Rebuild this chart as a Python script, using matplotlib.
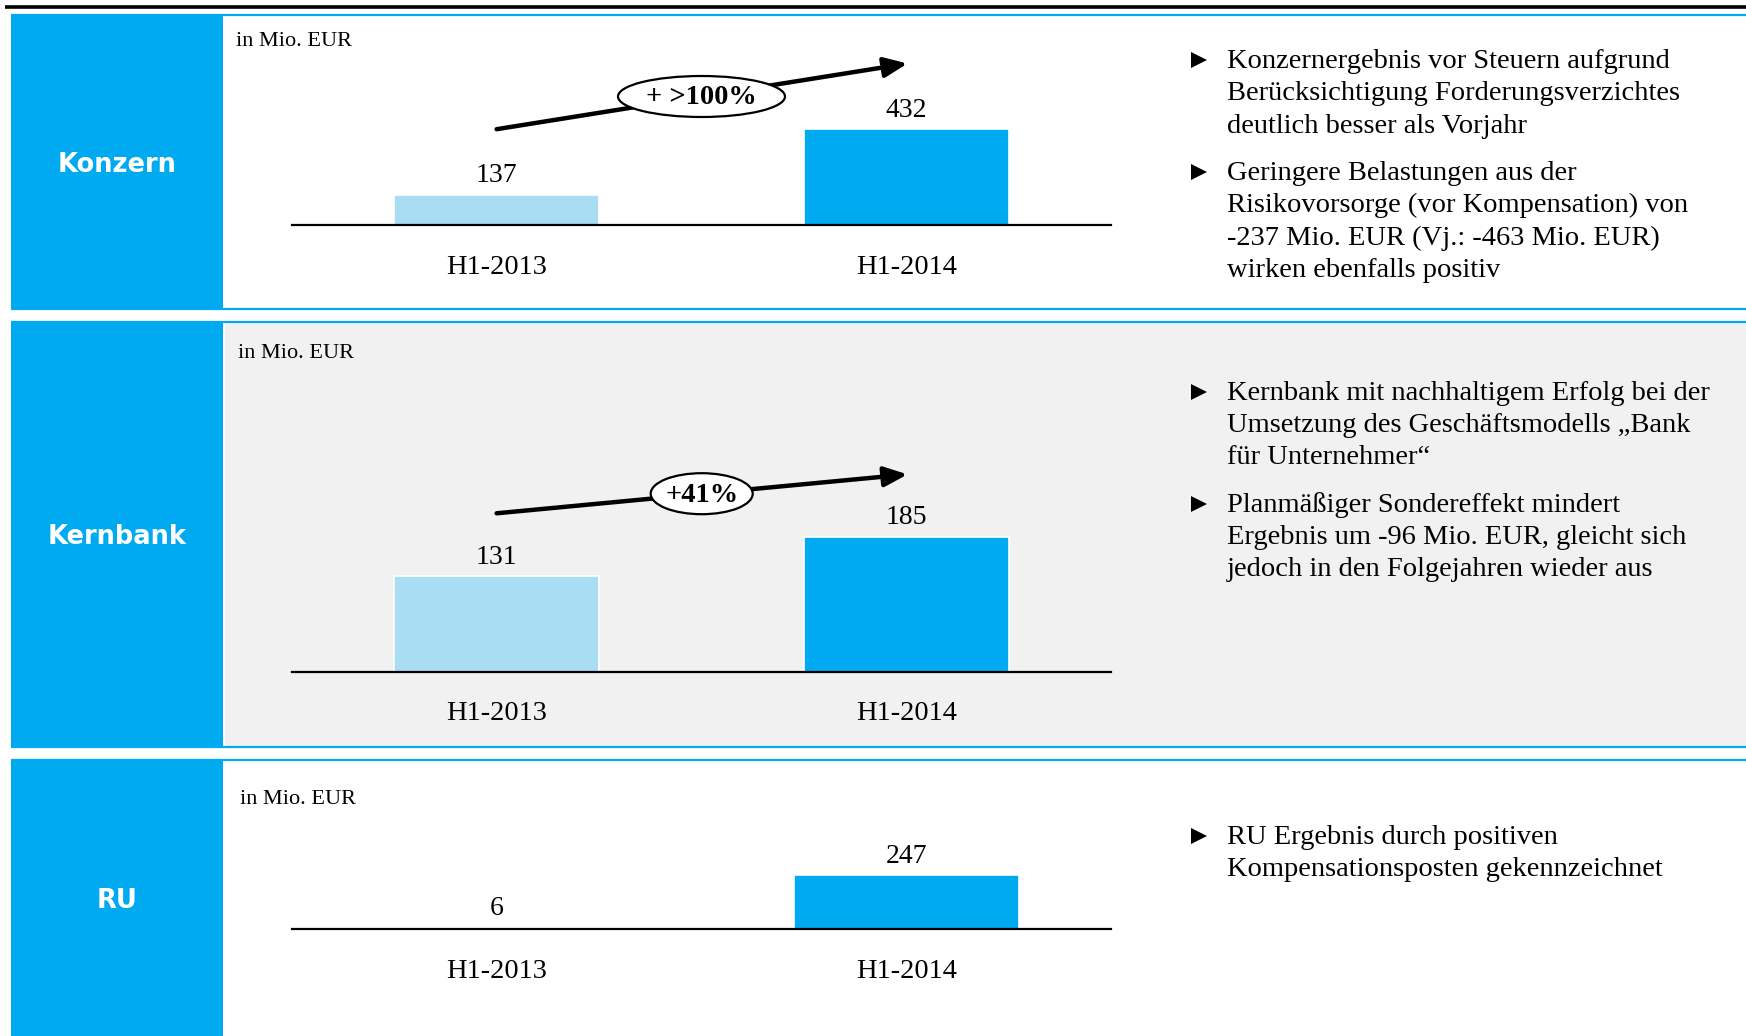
import matplotlib
matplotlib.use("Agg")
import matplotlib.pyplot as plt
from matplotlib.patches import Rectangle, Ellipse

# ---- data -------------------------------------------------------------
categories = ["H1-2013", "H1-2014"]
segments = ["Konzern", "Kernbank", "RU"]
konzern_values = [137, 432]
kernbank_values = [131, 185]
ru_values = [6, 247]
growth_labels = ["+ >100%", "+41%", None]
unit_label = "in Mio. EUR"

konzern_notes = [
    ["Konzernergebnis vor Steuern aufgrund",
     "Berücksichtigung Forderungsverzichtes",
     "deutlich besser als Vorjahr"],
    ["Geringere Belastungen aus der",
     "Risikovorsorge (vor Kompensation) von",
     "-237 Mio. EUR (Vj.: -463 Mio. EUR)",
     "wirken ebenfalls positiv"],
]
kernbank_notes = [
    ["Kernbank mit nachhaltigem Erfolg bei der",
     "Umsetzung des Geschäftsmodells „Bank",
     "für Unternehmer“"],
    ["Planmäßiger Sondereffekt mindert",
     "Ergebnis um -96 Mio. EUR, gleicht sich",
     "jedoch in den Folgejahren wieder aus"],
]
ru_notes = [
    ["RU Ergebnis durch positiven",
     "Kompensationsposten gekennzeichnet"],
]

# ---- style ------------------------------------------------------------
W, H, DPI = 1746, 1036, 100
BLUE = "#00AAF0"
LIGHT = "#A9DDF3"
GREY = "#F1F1F1"
SERIF = "Liberation Serif"
SANS = "DejaVu Sans"

panels = [
    dict(name=segments[0], values=konzern_values, growth=growth_labels[0],
         notes=konzern_notes, top=15, bottom=309, bg="white",
         baseline=225, ppu=0.2222, bar_w=0.5, unit_xy=(236, 41),
         arrow=((496.6, 129.2), (907.5, 63.5)), ell=(701.5, 96.5, 167, 41),
         note_y=61.5),
    dict(name=segments[1], values=kernbank_values, growth=growth_labels[1],
         notes=kernbank_notes, top=322, bottom=747, bg=GREY,
         baseline=671.5, ppu=0.7286, bar_w=0.5, unit_xy=(238, 353),
         arrow=((496.6, 513.3), (907.5, 474.4)), ell=(701.7, 493.7, 102, 41),
         note_y=393.3),
    dict(name=segments[2], values=ru_values, growth=growth_labels[2],
         notes=ru_notes, top=760, bottom=1036 + 5, bg="white",
         baseline=929, ppu=0.2166, bar_w=0.55, unit_xy=(240, 800),
         arrow=None, ell=None, note_y=837.6),
]

CHART_X0, CHART_X1 = 291.7, 1111.3
BOX_X0, BOX_X1 = 11, 223
LINE_STEP = 32.3
PARA_GAP = 15

fig = plt.figure(figsize=(W / DPI, H / DPI), dpi=DPI)
fig.patch.set_facecolor("white")

# full-figure overlay in pixel coordinates for frames and notes
bg = fig.add_axes([0, 0, 1, 1], zorder=0)
bg.set_xlim(0, W)
bg.set_ylim(H, 0)
bg.axis("off")

# heavy rule across the top
bg.plot([5, W], [6.5, 6.5], color="black", lw=2.6, solid_capstyle="butt")


def px_rect(x0, y0, x1, y1):
    return [x0 / W, 1 - y1 / H, (x1 - x0) / W, (y1 - y0) / H]


for p in panels:
    top, bottom = p["top"], p["bottom"]
    # content background and side label box
    bg.add_patch(Rectangle((225, top), W - 225, bottom - top,
                           facecolor=p["bg"], edgecolor="none", zorder=0))
    bg.add_patch(Rectangle((BOX_X0, top), BOX_X1 - BOX_X0, bottom - top,
                           facecolor=BLUE, edgecolor="none", zorder=1))
    for yy in (top, bottom):
        bg.plot([BOX_X0, W], [yy, yy], color=BLUE, lw=1.6, zorder=2,
                solid_capstyle="butt")
    bg.text((BOX_X0 + BOX_X1) / 2, (top + min(bottom, H)) / 2 + 2.5, p["name"],
            color="white", fontsize=18.5, fontweight="bold", family=SANS,
            ha="center", va="center", zorder=3)
    bg.text(p["unit_xy"][0], p["unit_xy"][1], unit_label, family=SERIF,
            fontsize=16, ha="left", va="center", zorder=3)

    # bullet notes
    y = p["note_y"]
    for para in p["notes"]:
        bg.plot([1199], [y - 1.5], marker=">", markersize=11,
                color="black", markeredgewidth=0, zorder=3)
        for line in para:
            bg.text(1227, y, line, family=SERIF, fontsize=20.5,
                    ha="left", va="center", zorder=3)
            y += LINE_STEP
        y += PARA_GAP

    # bar chart
    axes_top = top + 20
    ax = fig.add_axes(px_rect(CHART_X0, axes_top, CHART_X1, p["baseline"]),
                      zorder=2)
    ax.patch.set_alpha(0)
    ymax = (p["baseline"] - axes_top) / p["ppu"]
    ax.set_xlim(-0.5, 1.5)
    ax.set_ylim(0, ymax)
    xs = list(range(len(categories)))
    ax.bar(xs, p["values"], width=p["bar_w"], color=[LIGHT, BLUE],
           edgecolor="white", linewidth=1.2, zorder=2, clip_on=False)
    for s in ("top", "left", "right"):
        ax.spines[s].set_visible(False)
    ax.spines["bottom"].set_linewidth(1.6)
    ax.spines["bottom"].set_zorder(3)
    ax.set_xticks([])
    ax.set_yticks([])
    for x, v, c in zip(xs, p["values"], categories):
        ax.annotate(f"{v}", xy=(x, v), xytext=(0, 19),
                    textcoords="offset pixels", ha="center", va="center",
                    family=SERIF, fontsize=20, annotation_clip=False)
        ax.annotate(c, xy=(x, 0), xytext=(0, -42),
                    textcoords="offset pixels", ha="center", va="center",
                    family=SERIF, fontsize=20.5, annotation_clip=False)

    # growth arrow with ellipse badge
    if p["arrow"] is not None:
        (x0, y0), (x1, y1) = p["arrow"]
        bg.annotate("", xy=(x1, y1), xytext=(x0, y0),
                    arrowprops=dict(arrowstyle="-|>,head_length=0.7,head_width=0.3",
                                    lw=3.2, color="black", shrinkA=0, shrinkB=0,
                                    mutation_scale=20),
                    zorder=4)
        ex, ey, ew, eh = p["ell"]
        bg.add_patch(Ellipse((ex, ey), ew, eh, facecolor="white",
                             edgecolor="black", lw=1.6, zorder=5))
        bg.text(ex, ey + 1.5, p["growth"], family=SERIF, fontweight="bold",
                fontsize=20.5, ha="center", va="center", zorder=6)

fig.savefig("out.png", dpi=DPI, facecolor="white")
